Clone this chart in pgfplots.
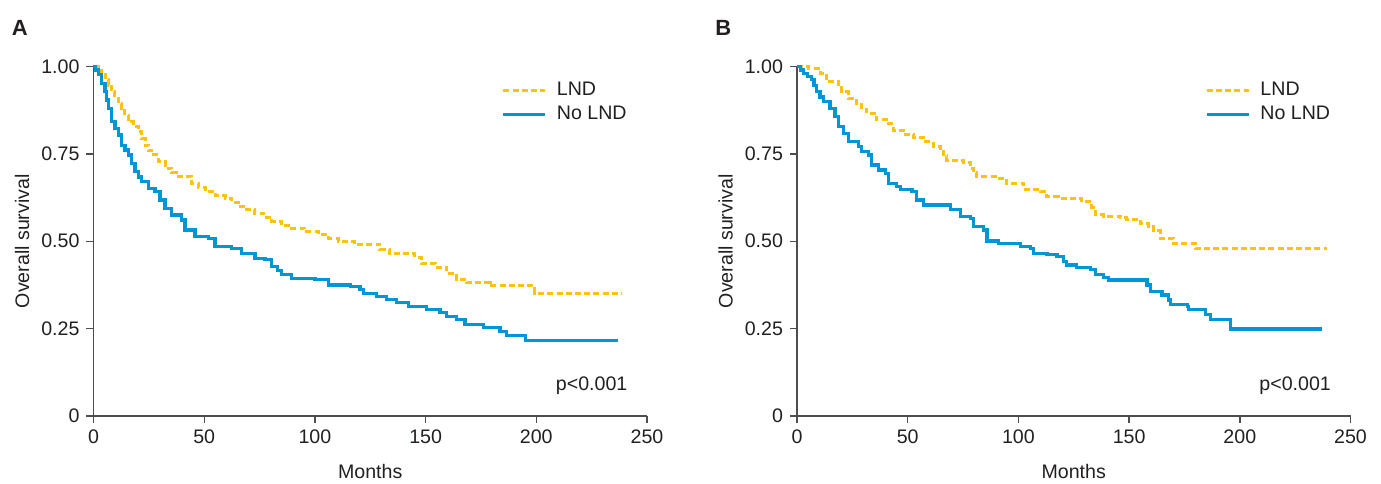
\documentclass[border=0pt]{standalone}
\usepackage{fontspec}
\setmainfont{Liberation Sans}
\usepackage{pgfplots}
\pgfplotsset{compat=1.18}
\definecolor{lndyellow}{HTML}{FFC20E}
\definecolor{nolndblue}{HTML}{0096D6}
\definecolor{axgray}{HTML}{4D4D4D}
\definecolor{txt}{HTML}{231F20}

\pgfplotsset{
  kmstyle/.style={
    scale only axis, width=276.75pt, height=174.75pt,
    xmin=0, xmax=250, ymin=0, ymax=1,
    axis lines=left, axis line style={axgray, line width=0.7pt, -},
    tick style={axgray, line width=0.7pt}, tick align=outside,
    major tick length=3.5pt,
    xtick={0,50,100,150,200,250},
    ytick={0,0.25,0.5,0.75,1},
    yticklabels={0,0.25,0.50,0.75,1.00},
    /pgf/number format/assume math mode=true,
    ticklabel style={font=\fontsize{9.8}{11}\selectfont, text=txt},
    label style={font=\fontsize{9.8}{11}\selectfont, text=txt},
    xlabel={Months}, ylabel={Overall survival},
    xlabel style={at={(axis description cs:0.5,-0.16)}, anchor=center},
    ylabel style={at={(axis description cs:-0.129,0.5)}, anchor=center},
    clip=false,
    legend style={draw=none, fill=none, at={(0.726,0.98)}, anchor=north west,
      font=\fontsize{9.8}{11}\selectfont, row sep=0pt, text=txt},
    legend cell align=left,
    legend image code/.code={\draw[#1] (0pt,0pt) -- (21pt,0pt); \path (24pt,0pt);},
  },
  lnd/.style={const plot, lndyellow, line width=1.5pt, dash pattern=on 3pt off 1.6pt},
  nolnd/.style={const plot, nolndblue, line width=1.6pt},
}

\begin{document}
\begin{tikzpicture}
\path[use as bounding box] (0,0) rectangle (690.5pt,241.5pt);

\begin{axis}[kmstyle, at={(46.75pt,33.5pt)}, anchor=south west]
\addplot[lnd] coordinates {
 (0,1.0) (2.2,0.988) (3.7,0.976) (5.2,0.962) (6.7,0.947) (8.2,0.928) (9.7,0.909)
 (11.2,0.895) (12.7,0.880) (14.2,0.861) (15.7,0.842) (18.0,0.828)
 (20.2,0.814) (21.8,0.795) (23.3,0.775) (24.8,0.761) (26.3,0.747) (29.3,0.728) (32.3,0.709)
 (35.3,0.697) (38.3,0.685)
 (44.4,0.666) (47.4,0.654) (50.4,0.642) (54.9,0.632) (59.4,0.623) (62.4,0.611) (65.4,0.599) (69.2,0.590) (72.9,0.580)
 (76.7,0.568) (80.5,0.556) (85.0,0.546) (89.5,0.537) (95.5,0.527) (101.6,0.518) (106.1,0.508) (110.6,0.499) (118.0,0.491)
 (129.4,0.477) (133.9,0.464) (145.2,0.454) (148.2,0.437) (154.3,0.426)
 (159.5,0.408) (164.1,0.391) (168.6,0.381) (179.1,0.372) (199.4,0.351)
 (238.6,0.351)
};
\addplot[nolnd] coordinates {
 (0,1.0) (1.0,0.990) (2.2,0.976) (3.7,0.952) (5.2,0.928) (6.0,0.904) (6.7,0.880) (8.2,0.842) (9.7,0.823) (11.2,0.804)
 (12.7,0.775) (14.2,0.761) (15.7,0.747) (17.2,0.723) (18.7,0.699) (20.2,0.684) (21.8,0.670) (24.8,0.651)
 (27.8,0.642) (30.0,0.618) (32.3,0.594) (35.3,0.575) (39.8,0.561) (41.3,0.532)
 (45.8,0.513) (51.9,0.508) (54.9,0.484) (62.4,0.480) (66.9,0.465)
 (72.9,0.451) (77.5,0.447) (80.5,0.428) (83.0,0.416) (85.0,0.404) (89.5,0.394)
 (100.0,0.390) (106.0,0.375) (116.0,0.370) (120.4,0.361) (121.9,0.351)
 (127.9,0.341) (132.5,0.333) (137.0,0.324) (142.2,0.313) (150.5,0.305)
 (156.5,0.296) (159.5,0.285) (164.1,0.275) (167.8,0.261) (176.1,0.253)
 (183.6,0.241) (186.7,0.230) (195.0,0.216) (237.1,0.216)
};
\legend{LND, No LND}
\node[font=\fontsize{9.8}{11}\selectfont, text=txt] at (rel axis cs:0.90,0.086) {p<0.001};
\node[font=\bfseries\fontsize{11}{13}\selectfont, text=txt] at (rel axis cs:-0.133,1.11) {A};
\end{axis}

\begin{axis}[kmstyle, at={(398.5pt,33.5pt)}, anchor=south west]
\addplot[lnd] coordinates {
 (0,1.0) (5.1,0.995) (10.4,0.981) (13.4,0.957) (18.7,0.949) (20.2,0.928)
 (23.2,0.909) (27.0,0.890) (29.3,0.878) (31.5,0.866) (36.0,0.847) (40.6,0.837)
 (43.5,0.818) (48.1,0.806) (52.6,0.796) (57.1,0.785) (61.6,0.771)
 (64.6,0.756) (66.2,0.744) (67.7,0.732) (75.2,0.726) (78.2,0.709) (79.7,0.697) (81.2,0.685)
 (90.3,0.680) (94.8,0.666) (102.3,0.649) (109.9,0.642) (112.9,0.627)
 (118.0,0.623) (128.7,0.613) (133.2,0.597) (134.7,0.577) (138.5,0.572)
 (146.0,0.568) (149.0,0.563) (155.1,0.551) (158.8,0.542) (161.1,0.530)
 (164.1,0.508) (170.1,0.494) (179.9,0.480) (239.5,0.480)
};
\addplot[nolnd] coordinates {
 (0,1.0) (1.5,0.990) (2.8,0.981) (4.7,0.971) (6.6,0.962) (7.7,0.945) (8.9,0.928) (10.4,0.913) (11.9,0.899) (14.9,0.880)
 (17.2,0.856) (18.7,0.828) (20.9,0.809) (23.2,0.785) (27.7,0.771)
 (29.2,0.756) (32.2,0.747) (33.8,0.718) (36.8,0.704) (39.8,0.694)
 (41.3,0.666) (45.1,0.656) (46.6,0.647) (51.9,0.642) (54.1,0.618)
 (57.1,0.604) (69.2,0.590) (73.7,0.570) (78.2,0.566) (79.7,0.542)
 (84.2,0.532) (85.8,0.501) (91.0,0.494) (100.8,0.484) (105.3,0.480)
 (106.8,0.465) (112.9,0.461) (117.4,0.456) (120.4,0.442) (121.9,0.432)
 (126.4,0.425) (132.5,0.420) (134.8,0.406) (138.5,0.397) (140.8,0.389)
 (158.1,0.375) (159.6,0.356) (164.9,0.346) (167.9,0.332) (168.6,0.320)
 (176.2,0.313) (176.9,0.305) (184.4,0.291) (186.7,0.275) (195.8,0.249)
 (237.2,0.249)
};
\legend{LND, No LND}
\node[font=\fontsize{9.8}{11}\selectfont, text=txt] at (rel axis cs:0.90,0.086) {p<0.001};
\node[font=\bfseries\fontsize{11}{13}\selectfont, text=txt] at (rel axis cs:-0.133,1.11) {B};
\end{axis}
\end{tikzpicture}
\end{document}
